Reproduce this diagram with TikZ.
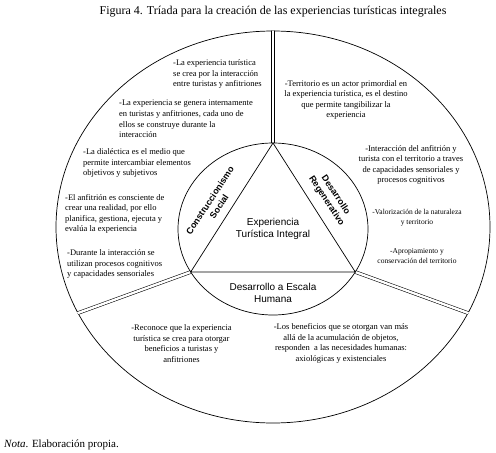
\documentclass[tikz,border=0pt]{standalone}
\usepackage{fontspec}
\setmainfont{Liberation Serif}
\newfontfamily\lsans{Liberation Sans}
\begin{document}
\begin{tikzpicture}[x=1pt,y=-1pt,
  bul/.style={font=\fontsize{8.5}{10.6}\selectfont, inner sep=0pt},
  bulL/.style={bul, align=left, anchor=west},
  bulC/.style={bul, align=center},
  bulS/.style={font=\fontsize{7.5}{10}\selectfont, inner sep=0pt, align=center},
  core/.style={font=\lsans\fontsize{10}{12}\selectfont, align=center, inner sep=0pt},
  side/.style={font=\lsans\bfseries\fontsize{9}{11}\selectfont, align=center, inner sep=0pt},
  rim/.style={line width=0.7pt},
  gapline/.style={double=white, double distance=2.4pt, line width=0.55pt}]
\useasboundingbox (0,0) rectangle (496,453);
% geometry
\coordinate (C) at (273,227);
\coordinate (Ci) at (273,229);
\coordinate (A) at (273,143);
\coordinate (VL) at (190.7,272);
\coordinate (VR) at (355.3,272);
\coordinate (PT) at (273,20);
\coordinate (PL) at (63.8,318.2);
\coordinate (PR) at (482.2,318.2);
% outer ring
\draw[rim] (C) ellipse [x radius=217, y radius=196];
\begin{scope}
  \clip (C) ellipse [x radius=217.4, y radius=196.4];
  \draw[gapline] (A) -- (PT);
  \draw[gapline] (VL) -- (PL);
  \draw[gapline] (VR) -- (PR);
\end{scope}
% inner circle and triangle
\draw[rim] (Ci) ellipse [x radius=95, y radius=86];
\draw[rim, line join=miter] (A) -- (VL) -- (VR) -- cycle;
% title and note
\node[inner sep=0pt, font=\fontsize{12}{14}\selectfont] (title) at (273,12) {Figura 4. Tríada para la creación de las experiencias turísticas integrales};
\node[inner sep=0pt, anchor=west, font=\fontsize{11}{13}\selectfont] (nota) at (4,445) {\textit{Nota}. Elaboración propia.};
% core labels
\node[core] (exp) at (273,229) {Experiencia\\Turística Integral};
\node[core] (deh) at (273,293) {Desarrollo a Escala\\Humana};
\node[side, rotate=56.6] (cons) at (214.5,203.5) {Construccionismo\\Social};
\node[side, rotate=-56.6] (dreg) at (331,198) {Desarrollo\\Regenerativo};
% left sector
\node[bulL] (ta) at (173,74) {-La experiencia turística\\se crea por la interacción\\entre turistas y anfitriones};
\node[bulL] (tb) at (119,119) {-La experiencia se genera internamente\\en turistas y anfitriones, cada uno de\\ellos se construye durante la\\interacción};
\node[bulL] (tc) at (83,163) {-La dialéctica es el medio que\\permite intercambiar elementos\\objetivos y subjetivos};
\node[bulL] (td) at (65,214) {-El anfitrión es consciente de\\crear una realidad, por ello\\planifica, gestiona, ejecuta y\\evalúa la experiencia};
\node[bulL] (te) at (67,264) {-Durante la interacción se\\utilizan procesos cognitivos\\y capacidades sensoriales};
% right sector
\node[bulC] (tf) at (346,100) {-Territorio es un actor primordial en\\la experiencia turística, es el destino\\que permite tangibilizar la\\experiencia};
\node[bulC] (tg) at (411,165) {-Interacción del anfitrión y\\turista con el territorio a traves\\de capacidades sensoriales y\\procesos cognitivos};
\node[bulS] (th) at (417,218) {-Valorización de la naturaleza\\y territorio};
\node[bulS] (ti) at (417,256) {-Apropiamiento y\\conservación del territorio};
% bottom sector
\node[bulC] (tj) at (181.5,343.5) {-Reconoce que la experiencia\\turística se crea para otorgar\\beneficios a turistas y\\anfitriones};
\node[bulC] (tk) at (341,343.5) {-Los beneficios que se otorgan van más\\allá de la acumulación de objetos,\\responden\ \ a las necesidades humanas:\\axiológicas y existenciales};
\end{tikzpicture}
\end{document}
